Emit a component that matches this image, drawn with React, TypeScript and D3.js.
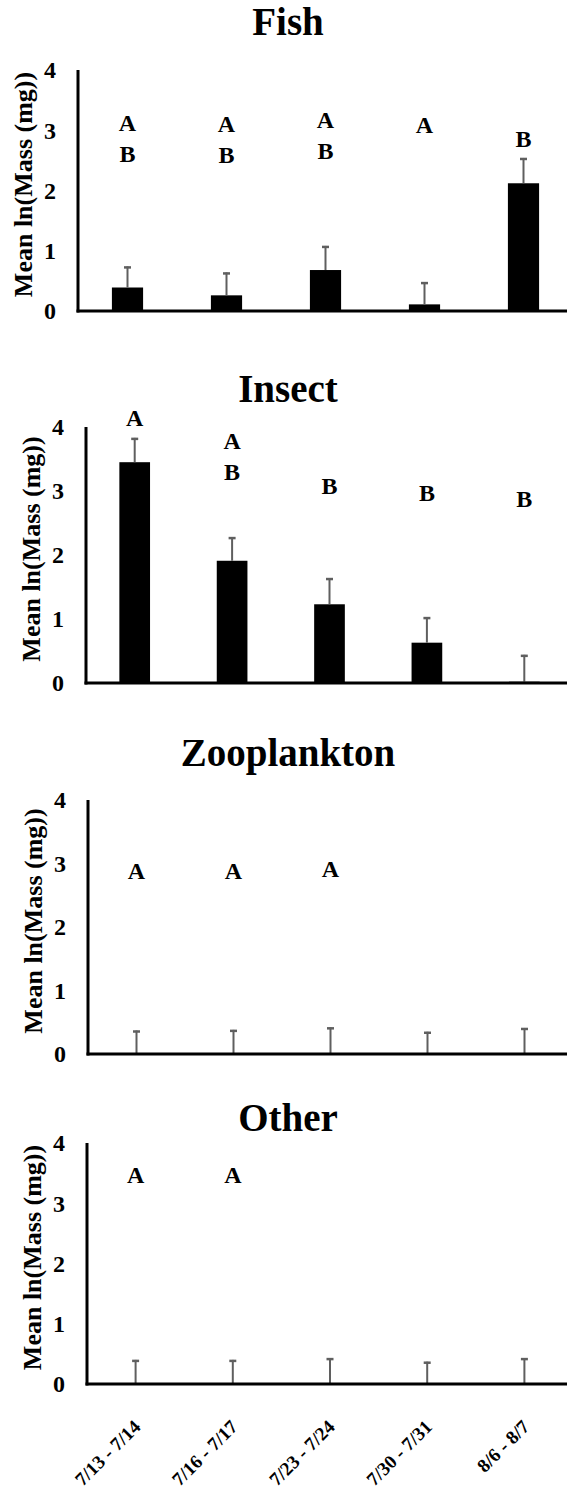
import React, { useEffect, useRef } from 'react'
import * as d3 from 'd3'

const dates = ['7/13 - 7/14', '7/16 - 7/17', '7/23 - 7/24', '7/30 - 7/31', '8/6 - 8/7']
const yTicks = [0, 1, 2, 3, 4]

const fishMean = [0.39, 0.26, 0.68, 0.11, 2.12]
const fishSE = [0.35, 0.38, 0.40, 0.37, 0.42]
const fishLetters = [['A', 'B'], ['A', 'B'], ['A', 'B'], ['A'], ['B']]
const fishLetterAt = [2.99, 2.97, 3.04, 2.95, 2.72]

const insectMean = [3.45, 1.91, 1.23, 0.63, 0.02]
const insectSE = [0.38, 0.37, 0.41, 0.40, 0.42]
const insectLetters = [['A'], ['A', 'B'], ['B'], ['B'], ['B']]
const insectLetterAt = [4.02, 3.66, 2.96, 2.84, 2.75]

const zooMean = [0, 0, 0, 0, 0]
const zooSE = [0.37, 0.38, 0.42, 0.35, 0.41]
const zooLetters = [['A'], ['A'], ['A'], [], []]
const zooLetterAt = [2.76, 2.76, 2.78, 0, 0]

const otherMean = [0, 0, 0, 0, 0]
const otherSE = [0.40, 0.40, 0.43, 0.37, 0.43]
const otherLetters = [['A'], ['A'], [], [], []]
const otherLetterAt = [3.34, 3.34, 0, 0, 0]

const panels = [
  { title: 'Fish', mean: fishMean, se: fishSE, letters: fishLetters, letterAt: fishLetterAt },
  { title: 'Insect', mean: insectMean, se: insectSE, letters: insectLetters, letterAt: insectLetterAt },
  { title: 'Zooplankton', mean: zooMean, se: zooSE, letters: zooLetters, letterAt: zooLetterAt },
  { title: 'Other', mean: otherMean, se: otherSE, letters: otherLetters, letterAt: otherLetterAt },
]

// pixel layout of each panel (axis box + title baseline)
const layout = [
  { left: 78, top: 70, bottom: 311, titleY: 35 },
  { left: 86, top: 427, bottom: 683, titleY: 402 },
  { left: 88, top: 800, bottom: 1054, titleY: 766 },
  { left: 87, top: 1143, bottom: 1384, titleY: 1131 },
]

const FONT = '"Liberation Serif", "Times New Roman", Times, serif'

export default function App() {
  const ref = useRef<SVGSVGElement | null>(null)

  useEffect(() => {
    if (!ref.current) return
    const svg = d3.select(ref.current)
    svg.selectAll('*').remove()
    const width = 567, height = 1500
    svg.attr('width', width).attr('height', height).attr('viewBox', `0 0 ${width} ${height}`)
    svg.append('rect').attr('width', width).attr('height', height).attr('fill', '#fff')

    panels.forEach((p, pi) => {
      const L = layout[pi]
      const right = 573
      const g = svg.append('g').attr('font-family', FONT).attr('font-weight', 'bold')

      const x = d3.scaleBand<string>().domain(dates).range([L.left, right])
        .paddingInner(0.685).paddingOuter(0.3425)
      const y = d3.scaleLinear().domain([0, 4]).range([L.bottom, L.top])
      const cx = (d: string) => x(d)! + x.bandwidth() / 2

      // title
      g.append('text').attr('x', 288).attr('y', L.titleY).attr('text-anchor', 'middle')
        .attr('font-size', 39).attr('fill', '#000').text(p.title)

      // y label
      const midY = (L.top + L.bottom) / 2 - 6
      g.append('text').attr('transform', `translate(${L.left - 46},${midY}) rotate(-90)`)
        .attr('text-anchor', 'middle').attr('font-size', 26).attr('fill', '#000')
        .text('Mean ln(Mass (mg))')

      // tick labels
      g.selectAll('.tick').data(yTicks).enter().append('text')
        .attr('x', L.left - 22).attr('y', d => y(d)).attr('dy', '0.35em')
        .attr('text-anchor', 'end').attr('font-size', 24).attr('fill', '#000')
        .text(d => String(d))

      // bars
      g.selectAll('.bar').data(dates).enter().append('rect')
        .attr('x', d => x(d)!)
        .attr('y', (d, i) => y(p.mean[i]))
        .attr('width', x.bandwidth())
        .attr('height', (d, i) => y(0) - y(p.mean[i]))
        .attr('fill', '#000')

      // error bars (upper only)
      const eb = g.selectAll('.eb').data(dates).enter().append('g')
      eb.append('line')
        .attr('x1', d => cx(d)).attr('x2', d => cx(d))
        .attr('y1', (d, i) => y(p.mean[i])).attr('y2', (d, i) => y(p.mean[i] + p.se[i]))
        .attr('stroke', '#5f5f5f').attr('stroke-width', 2)
      eb.append('line')
        .attr('x1', d => cx(d) - 3.5).attr('x2', d => cx(d) + 3.5)
        .attr('y1', (d, i) => y(p.mean[i] + p.se[i]) + 1).attr('y2', (d, i) => y(p.mean[i] + p.se[i]) + 1)
        .attr('stroke', '#5f5f5f').attr('stroke-width', 2.5)

      // significance letters
      dates.forEach((d, i) => {
        p.letters[i].forEach((ltr, k) => {
          g.append('text').attr('x', cx(d)).attr('y', y(p.letterAt[i]) + k * 31)
            .attr('text-anchor', 'middle').attr('font-size', 24).attr('fill', '#000').text(ltr)
        })
      })

      // axes lines
      g.append('line').attr('x1', L.left).attr('x2', L.left).attr('y1', L.top).attr('y2', L.bottom + 1.5)
        .attr('stroke', '#000').attr('stroke-width', 3)
      g.append('line').attr('x1', L.left - 1.5).attr('x2', right).attr('y1', L.bottom).attr('y2', L.bottom)
        .attr('stroke', '#000').attr('stroke-width', 3)

      // date labels on the last panel only
      if (pi === panels.length - 1) {
        g.selectAll('.xl').data(dates).enter().append('text')
          .attr('transform', d => `translate(${cx(d) + 6},${L.bottom + 44}) rotate(-45)`)
          .attr('text-anchor', 'end').attr('font-size', 19).attr('fill', '#000')
          .text(d => d)
      }
    })
  }, [])

  return <svg ref={ref} style={{ position: 'absolute', left: 0, top: 0, display: 'block' }} />
}
